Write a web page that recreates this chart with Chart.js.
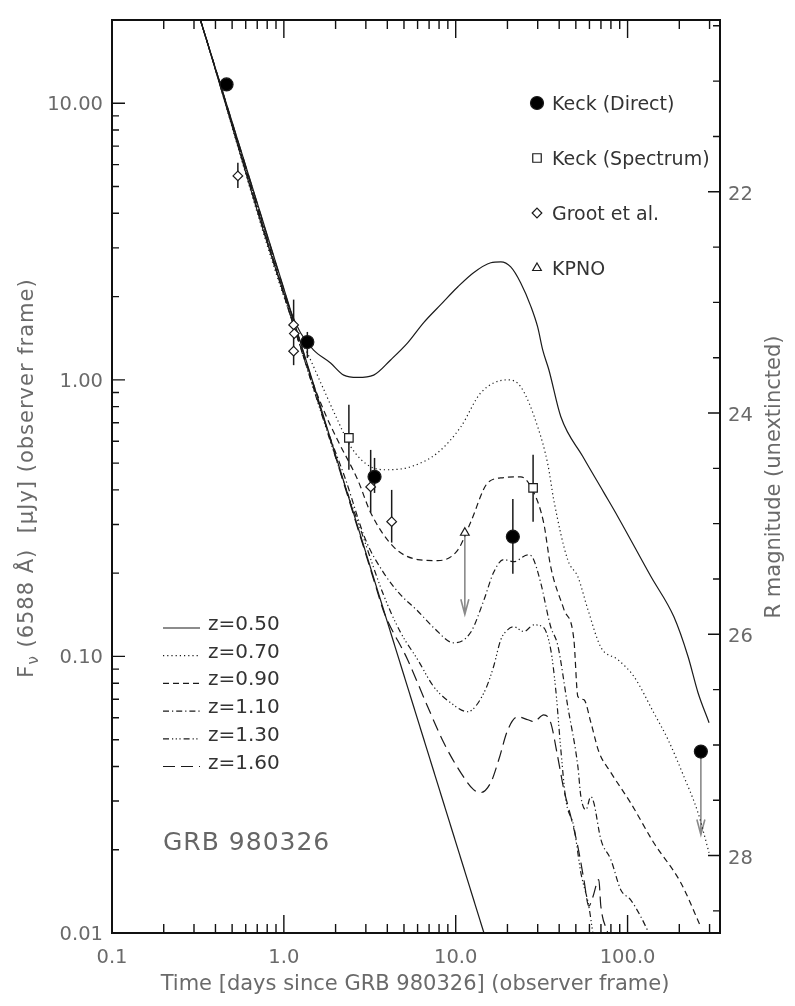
<!DOCTYPE html>
<html lang="en">
<head>
<meta charset="utf-8">
<title>GRB 980326 light curve</title>
<script src="https://cdn.jsdelivr.net/npm/chart.js@4/dist/chart.umd.min.js"></script>
<style>
	html, body { margin: 0; padding: 0; background: #fff; }
	#chart-wrap { position: relative; width: 795px; height: 1006px; }
</style>
</head>
<body>
<div id="chart-wrap"><canvas id="chart-grb"></canvas></div>
<script>
//---------------------------------------------------------
// Data
//---------------------------------------------------------

// Axis ranges and ticks
const X_MIN = 0.1, X_MAX = 345;
const Y_MIN = 0.01, Y_MAX = 20;
const X_TICKS = [0.1, 1, 10, 100];
const X_TICK_LABELS = ["0.1", "1.0", "10.0", "100.0"];
const Y_TICKS = [0.1, 1, 10, 0.01];
const Y_TICK_LABELS = ["0.10", "1.00", "10.00", "0.01"];
const MAG_TICKS = [22, 24, 26, 28];
const MAG_ZERO = 23.70; // R mag at 1 µJy (from the right axis)

// Power-law afterglow
const PL_T = [0.327, 14.6];
const PL_F = [20.0, 0.01];

// Afterglow + supernova models
const Z_LABELS = ["z=0.50", "z=0.70", "z=0.90", "z=1.10", "z=1.30", "z=1.60"];

const Z050_T = [0.327, 1.09, 1.25, 1.49, 1.87, 2.23, 2.69, 3.33, 4.18, 5.25, 6.51, 8.18, 10.3, 12.7, 16.0, 18.3, 20.9, 23.9, 27.4, 30.0, 32.1, 34.8, 40.9, 55.0, 72.8, 87.8, 137, 186, 225, 257, 298];
const Z050_F = [20.0, 1.78, 1.48, 1.28, 1.15, 1.04, 1.02, 1.04, 1.18, 1.36, 1.61, 1.87, 2.17, 2.44, 2.65, 2.67, 2.56, 2.24, 1.84, 1.55, 1.28, 1.09, 0.735, 0.527, 0.391, 0.320, 0.194, 0.139, 0.0997, 0.0739, 0.0576];

const Z070_T = [0.327, 1.20, 1.37, 1.64, 2.05, 2.45, 3.20, 4.02, 5.47, 7.85, 10.7, 14.0, 20.1, 23.9, 30.0, 34.4, 37.2, 44.9, 51.4, 58.7, 69.9, 87.9, 109, 142, 172, 213, 257, 298];
const Z070_F = [20.0, 1.465, 1.25, 0.975, 0.717, 0.573, 0.485, 0.473, 0.485, 0.545, 0.676, 0.898, 1.00, 0.944, 0.676, 0.493, 0.368, 0.223, 0.194, 0.148, 0.108, 0.0973, 0.0845, 0.0626, 0.0500, 0.0367, 0.0272, 0.0195];

const Z090_T = [0.327, 1.43, 1.75, 2.05, 2.69, 3.20, 4.35, 6.01, 7.85, 10.3, 12.2, 15.4, 19.0, 23.9, 28.5, 32.5, 35.7, 42.6, 48.7, 51.4, 55.7, 61.2, 68.0, 80.0, 104, 142, 204, 267];
const Z090_F = [20.0, 1.03, 0.748, 0.607, 0.435, 0.331, 0.249, 0.224, 0.222, 0.243, 0.305, 0.425, 0.443, 0.446, 0.391, 0.304, 0.211, 0.148, 0.115, 0.0715, 0.0698, 0.0576, 0.0453, 0.0380, 0.0296, 0.0212, 0.0152, 0.0105];

const Z110_T = [0.327, 1.75, 2.29, 2.99, 3.80, 4.78, 6.01, 7.45, 9.73, 12.2, 14.6, 16.6, 19.0, 21.8, 26.3, 28.1, 31.2, 35.7, 39.2, 44.9, 51.4, 53.5, 57.2, 61.1, 63.6, 69.9, 80.0, 91.4, 104, 119, 133];
const Z110_F = [20.0, 0.688, 0.435, 0.264, 0.201, 0.167, 0.146, 0.127, 0.112, 0.122, 0.160, 0.201, 0.224, 0.220, 0.233, 0.227, 0.185, 0.128, 0.110, 0.0658, 0.0399, 0.0311, 0.0279, 0.0311, 0.0296, 0.0218, 0.0184, 0.0143, 0.0132, 0.0115, 0.0100];

const Z130_T = [0.327, 2.14, 2.80, 3.80, 4.78, 6.01, 7.45, 9.35, 11.7, 14.6, 16.6, 18.3, 20.1, 21.8, 24.9, 28.5, 32.1, 35.7, 38.2, 40.9, 43.7, 48.7, 53.5, 59.5, 62.8];
const Z130_F = [20.0, 0.461, 0.287, 0.167, 0.122, 0.0973, 0.0777, 0.0680, 0.0631, 0.0739, 0.0918, 0.115, 0.125, 0.128, 0.123, 0.130, 0.128, 0.106, 0.0758, 0.0460, 0.0304, 0.0242, 0.0165, 0.0125, 0.0100];

const Z160_T = [0.327, 3.42, 3.80, 5.25, 6.87, 8.51, 10.7, 12.7, 14.0, 16.0, 17.8, 20.1, 23.0, 26.3, 28.5, 32.5, 35.7, 39.2, 42.6, 46.8, 51.4, 55.7, 59.5, 62.8, 68.0, 69.9, 76.7];
const Z160_F = [20.0, 0.180, 0.146, 0.0973, 0.0658, 0.0488, 0.0380, 0.0330, 0.0322, 0.0350, 0.0423, 0.0543, 0.0605, 0.0590, 0.0581, 0.0615, 0.0576, 0.0434, 0.0330, 0.0263, 0.0205, 0.0156, 0.0125, 0.0135, 0.0156, 0.0125, 0.0100];

// Observations
const OBS_LABELS = ["Keck (Direct)", "Keck (Spectrum)", "Groot et al.", "KPNO"];

const KECK_DIRECT_T = [0.464, 1.37, 3.37, 21.5, 267];
const KECK_DIRECT_F = [11.7, 1.37, 0.446, 0.271, 0.0453];
const KECK_DIRECT_LO = [null, 1.20, 0.390, 0.199, null];
const KECK_DIRECT_HI = [null, 1.49, 0.522, 0.371, null];
const KECK_DIRECT_LIMIT = [null, null, null, null, 0.0227];

const KECK_SPEC_T = [2.39, 28.2];
const KECK_SPEC_F = [0.617, 0.407];
const KECK_SPEC_LO = [0.473, 0.307];
const KECK_SPEC_HI = [0.812, 0.536];

const GROOT_T = [0.540, 1.14, 1.15, 1.14, 3.20, 4.24];
const GROOT_F = [5.46, 1.58, 1.47, 1.27, 0.410, 0.307];
const GROOT_LO = [4.94, 1.13, null, null, 0.331, 0.258];
const GROOT_HI = [6.09, 1.95, null, null, 0.558, 0.400];

const KPNO_T = [11.3];
const KPNO_F = [0.280];
const KPNO_LIMIT = [0.142];

//---------------------------------------------------------
// Styles
//---------------------------------------------------------
const FONT = '"DejaVu Sans", "Liberation Sans", sans-serif';
const INK = "#1a1a1a";
const LABEL_GREY = "#6a6a6a";
const Z_DASHES = [[], [1.2, 3], [6, 4], [6, 3, 1.2, 3], [6, 3, 1.2, 2.5, 1.2, 2.5, 1.2, 3], [12, 6]];

const pts = (T, F) => T.map((t, i) => ({ x: t, y: F[i] }));

const MARKERS = [
	{ pointStyle: "circle", radius: 6.5, fill: "#000" },
	{ pointStyle: "rect", radius: 6, fill: "#fff" },
	{ pointStyle: "rectRot", radius: 4.8, fill: "#fff" },
	{ pointStyle: "triangle", radius: 5, fill: "#fff" },
];

const markerSet = (label, T, F, m) => ({
	label,
	data: pts(T, F),
	showLine: false,
	pointStyle: m.pointStyle,
	pointRadius: m.radius,
	pointBackgroundColor: m.fill,
	pointBorderColor: INK,
	pointBorderWidth: 1.2,
	order: 0,
});

const curveSet = (label, T, F, dash, smooth) => ({
	label,
	data: pts(T, F),
	showLine: true,
	pointRadius: 0,
	borderColor: INK,
	borderWidth: 1.2,
	borderDash: dash,
	cubicInterpolationMode: smooth ? "monotone" : "default",
	tension: 0,
	order: 1,
});

//---------------------------------------------------------
// Custom drawing: frame, inward ticks, labels, legends
//---------------------------------------------------------
const logTicks = (lo, hi) => {
	const out = [];
	for (let e = Math.floor(Math.log10(lo)) - 1; e <= Math.ceil(Math.log10(hi)); e++) {
		for (let k = 1; k < 10; k++) {
			const v = k * Math.pow(10, e);
			if (v > lo * 1.0001 && v < hi * 0.9999) out.push({ v, major: k === 1 });
		}
	}
	return out;
};

const magToFlux = (m) => Math.pow(10, (MAG_ZERO - m) / 2.5);

const grbPlugin = {
	id: "grbExtras",
	beforeDatasetsDraw(chart) {
		const { ctx, scales: { x, y } } = chart;
		ctx.save();
		ctx.beginPath();
		ctx.rect(chart.chartArea.left, chart.chartArea.top, chart.chartArea.width, chart.chartArea.height);
		ctx.clip();

		// Error bars
		ctx.strokeStyle = INK;
		ctx.lineWidth = 1.5;
		const bars = (T, LO, HI) => {
			T.forEach((t, i) => {
				if (LO[i] == null) return;
				const px = x.getPixelForValue(t);
				ctx.beginPath();
				ctx.moveTo(px, y.getPixelForValue(LO[i]));
				ctx.lineTo(px, y.getPixelForValue(HI[i]));
				ctx.stroke();
			});
		};
		bars(KECK_DIRECT_T, KECK_DIRECT_LO, KECK_DIRECT_HI);
		bars(KECK_SPEC_T, KECK_SPEC_LO, KECK_SPEC_HI);
		bars(GROOT_T, GROOT_LO, GROOT_HI);

		// Upper limits (grey arrows)
		ctx.strokeStyle = "#8a8a8a";
		ctx.lineWidth = 1.6;
		const arrows = (T, F, LIM) => {
			T.forEach((t, i) => {
				if (LIM[i] == null) return;
				const px = x.getPixelForValue(t);
				const y0 = y.getPixelForValue(F[i]);
				const y1 = y.getPixelForValue(LIM[i]);
				ctx.beginPath();
				ctx.moveTo(px, y0);
				ctx.lineTo(px, y1);
				ctx.moveTo(px - 4, y1 - 15);
				ctx.lineTo(px, y1);
				ctx.lineTo(px + 4, y1 - 15);
				ctx.stroke();
			});
		};
		arrows(KECK_DIRECT_T, KECK_DIRECT_F, KECK_DIRECT_LIMIT);
		arrows(KPNO_T, KPNO_F, KPNO_LIMIT);
		ctx.restore();
	},
	afterDraw(chart) {
		const { ctx, chartArea: { left, right, top, bottom }, scales: { x, y } } = chart;
		ctx.save();

		// Frame
		ctx.strokeStyle = "#111";
		ctx.lineWidth = 2;
		ctx.strokeRect(left, top, right - left, bottom - top);

		// Inward ticks
		ctx.lineWidth = 1.4;
		ctx.beginPath();
		logTicks(X_MIN, X_MAX).forEach(({ v, major }) => {
			const px = x.getPixelForValue(v);
			const len = major ? 18 : 9;
			ctx.moveTo(px, bottom); ctx.lineTo(px, bottom - len);
			ctx.moveTo(px, top); ctx.lineTo(px, top + len);
		});
		logTicks(Y_MIN, Y_MAX).forEach(({ v, major }) => {
			const py = y.getPixelForValue(v);
			const len = major ? 13 : 7;
			ctx.moveTo(left, py); ctx.lineTo(left + len, py);
		});
		for (let m = 20.5; m <= 28.51; m += 0.5) {
			const py = y.getPixelForValue(magToFlux(m));
			if (py <= top + 1 || py >= bottom - 1) continue;
			const len = MAG_TICKS.includes(m) ? 12 : 7;
			ctx.moveTo(right, py); ctx.lineTo(right - len, py);
		}
		ctx.stroke();

		// Tick labels
		ctx.fillStyle = LABEL_GREY;
		ctx.font = `19.5px ${FONT}`;
		ctx.textBaseline = "alphabetic";
		ctx.textAlign = "center";
		X_TICKS.forEach((v, i) => ctx.fillText(X_TICK_LABELS[i], x.getPixelForValue(v), bottom + 30));
		ctx.textAlign = "right";
		Y_TICKS.forEach((v, i) => ctx.fillText(Y_TICK_LABELS[i], left - 9, y.getPixelForValue(v) + 7));
		ctx.textAlign = "left";
		MAG_TICKS.forEach((m) => ctx.fillText(String(m), right + 8, y.getPixelForValue(magToFlux(m)) + 8));

		// Axis titles
		ctx.font = `21px ${FONT}`;
		ctx.textAlign = "center";
		ctx.fillText("Time [days since GRB 980326] (observer frame)", 415, 990);

		// Left title, rotated, with subscript nu
		ctx.save();
		ctx.translate(33, 478);
		ctx.rotate(-Math.PI / 2);
		ctx.textAlign = "left";
		ctx.letterSpacing = "1px";
		const rest = " (6588 Å)  [µJy] (observer frame)";
		ctx.font = `21px ${FONT}`;
		const wF = ctx.measureText("F").width;
		const wRest = ctx.measureText(rest).width;
		ctx.font = `15px ${FONT}`;
		const wNu = ctx.measureText("ν").width;
		let u = -(wF + wNu + wRest) / 2;
		ctx.font = `21px ${FONT}`;
		ctx.fillText("F", u, 0);
		ctx.font = `15px ${FONT}`;
		ctx.fillText("ν", u + wF, 5);
		ctx.font = `21px ${FONT}`;
		ctx.fillText(rest, u + wF + wNu, 0);
		ctx.restore();

		// Right title
		ctx.save();
		ctx.translate(780, 477);
		ctx.rotate(-Math.PI / 2);
		ctx.textAlign = "center";
		ctx.font = `21px ${FONT}`;
		ctx.fillText("R magnitude (unextincted)", 0, 0);
		ctx.restore();

		// Observation legend (top right)
		ctx.font = `19px ${FONT}`;
		ctx.textAlign = "left";
		OBS_LABELS.forEach((label, i) => {
			const cy = 103 + i * 55;
			const m = MARKERS[i];
			ctx.fillStyle = m.fill;
			ctx.strokeStyle = INK;
			ctx.lineWidth = 1.2;
			Chart.helpers.drawPoint(ctx, { pointStyle: m.pointStyle, radius: m.radius, rotation: 0, borderWidth: 1.2 }, 537, cy);
			ctx.fillStyle = "#333";
			ctx.fillText(label, 552, cy + 7);
		});

		// Model legend (bottom left)
		ctx.font = `20px ${FONT}`;
		Z_LABELS.forEach((label, i) => {
			const by = 630 + i * 27.7;
			ctx.strokeStyle = INK;
			ctx.lineWidth = 1.2;
			ctx.setLineDash(Z_DASHES[i]);
			ctx.beginPath();
			ctx.moveTo(163, by - 2);
			ctx.lineTo(200, by - 2);
			ctx.stroke();
			ctx.setLineDash([]);
			ctx.fillStyle = "#333";
			ctx.fillText(label, 208, by);
		});

		// Burst name
		ctx.font = `25px ${FONT}`;
		ctx.letterSpacing = "1px";
		ctx.fillStyle = "#666";
		ctx.fillText("GRB 980326", 163, 850);
		ctx.restore();
	},
};

//---------------------------------------------------------
// Chart
//---------------------------------------------------------
const CHART_DATA = {
	datasets: [
		markerSet(OBS_LABELS[0], KECK_DIRECT_T, KECK_DIRECT_F, MARKERS[0]),
		markerSet(OBS_LABELS[1], KECK_SPEC_T, KECK_SPEC_F, MARKERS[1]),
		markerSet(OBS_LABELS[2], GROOT_T, GROOT_F, MARKERS[2]),
		markerSet(OBS_LABELS[3], KPNO_T, KPNO_F, MARKERS[3]),
		curveSet("power law", PL_T, PL_F, [], false),
		curveSet(Z_LABELS[0], Z050_T, Z050_F, Z_DASHES[0], true),
		curveSet(Z_LABELS[1], Z070_T, Z070_F, Z_DASHES[1], true),
		curveSet(Z_LABELS[2], Z090_T, Z090_F, Z_DASHES[2], true),
		curveSet(Z_LABELS[3], Z110_T, Z110_F, Z_DASHES[3], true),
		curveSet(Z_LABELS[4], Z130_T, Z130_F, Z_DASHES[4], true),
		curveSet(Z_LABELS[5], Z160_T, Z160_F, Z_DASHES[5], true),
	],
};

const CHART_CONFIG = {
	type: "scatter",
	data: CHART_DATA,
	options: {
		responsive: true,
		maintainAspectRatio: false,
		animation: false,
		layout: { padding: { left: 112, right: 75, top: 20, bottom: 73 } },
		plugins: {
			legend: { display: false },
			title: { display: false },
			tooltip: { enabled: false },
		},
		scales: {
			x: { type: "logarithmic", min: X_MIN, max: X_MAX, display: false },
			y: { type: "logarithmic", min: Y_MIN, max: Y_MAX, display: false },
		},
	},
	plugins: [grbPlugin],
};

const CHART_WRAPPER = document.getElementById("chart-grb");
if (CHART_WRAPPER) {
	new Chart(CHART_WRAPPER, CHART_CONFIG);
}
</script>
</body>
</html>
